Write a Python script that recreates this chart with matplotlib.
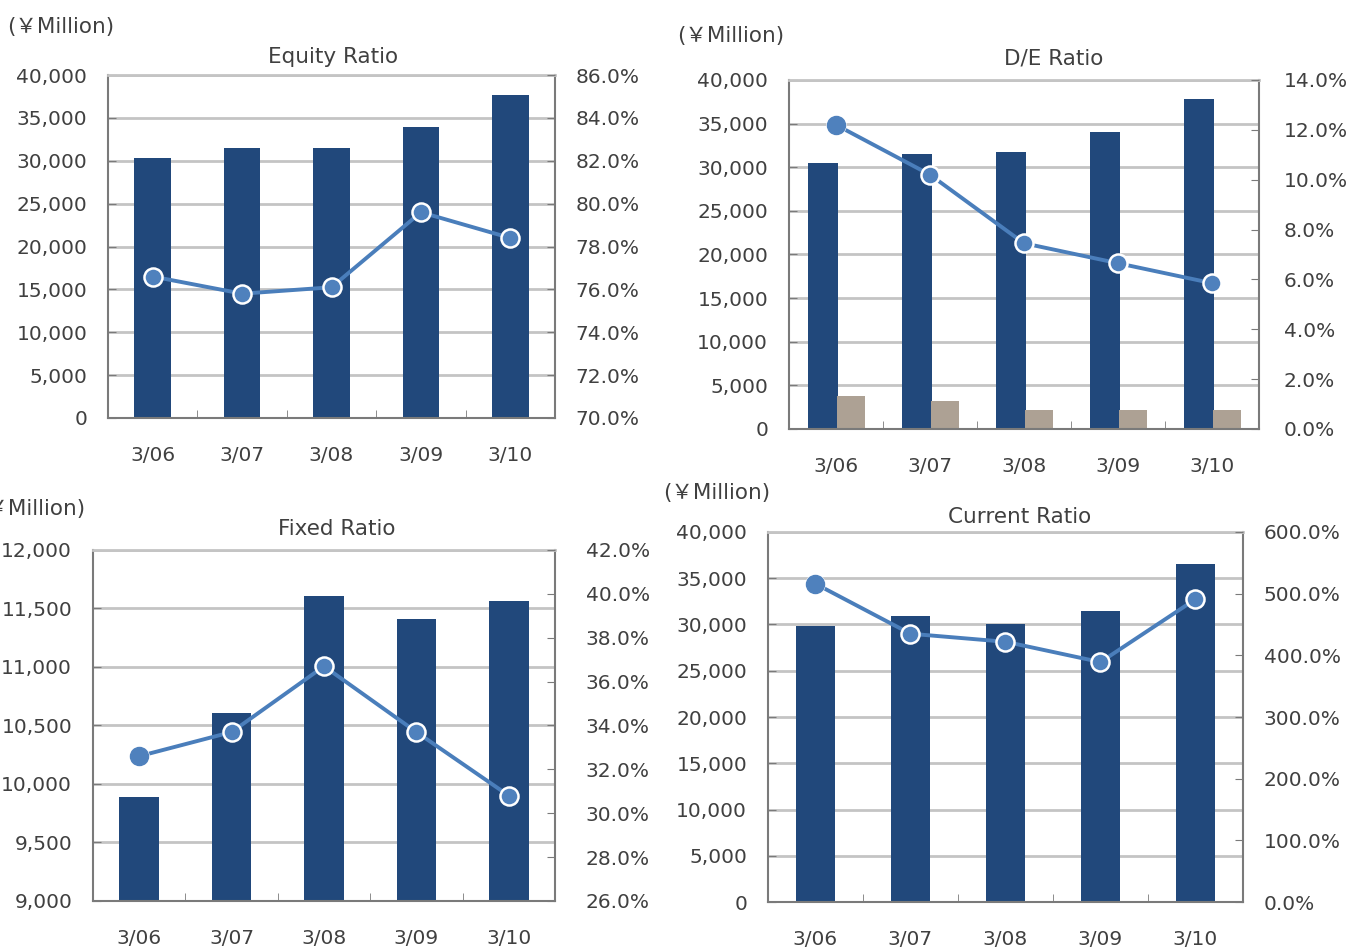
import matplotlib
matplotlib.use('Agg')
import matplotlib.pyplot as plt
from matplotlib.ticker import FuncFormatter, MultipleLocator, FixedLocator

plt.rcParams['font.family'] = ['DejaVu Sans', 'Noto Sans CJK JP']

# data
years = ['3/06', '3/07', '3/08', '3/09', '3/10']

equity_amt = [30300, 31500, 31500, 33900, 37650]
equity_pct = [76.6, 75.8, 76.1, 79.6, 78.4]

de_equity = [30500, 31500, 31750, 34050, 37800]
de_debt = [3780, 3200, 2180, 2180, 2180]
de_pct = [12.2, 10.2, 7.45, 6.65, 5.85]

fixed_amt = [9890, 10610, 11610, 11410, 11565]
fixed_pct = [32.6, 33.7, 36.7, 33.7, 30.8]

current_amt = [29850, 30900, 30050, 31450, 36550]
current_pct = [516, 435, 422, 389, 491]

NAVY = '#21487b'
LINE = '#4a7ebb'
MARK = '#4f81bd'
GREY = '#ada194'
GRID = '#c4c4c4'
SPINE = '#7a7a7a'
TXT = '#404040'
FS = 14.5

fig = plt.figure(figsize=(13.54, 9.51), dpi=100)


def panel(rect, ylim, ystep, y2lim, y2step, title, title_xy, unit_xy, rpad):
    ax = fig.add_axes(rect)
    ax.set_xlim(-0.5, 4.5)
    ax.set_ylim(*ylim)
    ax.yaxis.set_major_locator(MultipleLocator(ystep))
    ax.yaxis.set_major_formatter(FuncFormatter(lambda v, p: f'{v:,.0f}'))
    ax.grid(axis='y', color=GRID, linewidth=2, zorder=0)
    ax.set_axisbelow(True)
    ax.set_xticks(range(len(years)))
    ax.set_xticklabels(years)
    ax.xaxis.set_minor_locator(FixedLocator([0.5, 1.5, 2.5, 3.5]))
    ax.tick_params(axis='x', which='major', length=0, pad=20, labelsize=FS, labelcolor=TXT)
    ax.tick_params(axis='x', which='minor', direction='in', length=6, color=SPINE)
    ax.tick_params(axis='y', direction='in', length=6, color=SPINE, pad=15,
                   labelsize=FS, labelcolor=TXT)
    for s in ['left', 'right', 'bottom']:
        ax.spines[s].set_color(SPINE)
        ax.spines[s].set_linewidth(1.5)
    ax.spines['top'].set_color(GRID)
    ax.spines['top'].set_linewidth(2)

    ax2 = ax.twinx()
    ax2.set_ylim(*y2lim)
    ax2.yaxis.set_major_locator(MultipleLocator(y2step))
    ax2.yaxis.set_major_formatter(FuncFormatter(lambda v, p: '%.1f%%' % v))
    ax2.tick_params(axis='y', direction='in', length=6, color=SPINE, pad=rpad,
                    labelsize=FS, labelcolor=TXT)
    for s in ax2.spines.values():
        s.set_visible(False)

    fig.text(title_xy[0], title_xy[1], title, ha='center', va='center',
             fontsize=15.5, color=TXT)
    fig.text(unit_xy[0], unit_xy[1], '(￥Million)', ha='left', va='center',
             fontsize=15.5, color=TXT)
    return ax, ax2


def line(ax2, vals, plain_first):
    ax2.plot(range(len(vals)), vals, color=LINE, linewidth=2.8, marker='o',
             markersize=13, markerfacecolor=MARK, markeredgecolor='white',
             markeredgewidth=1.8, zorder=5)
    if plain_first:
        ax2.plot([0], vals[:1], marker='o', markersize=13, markerfacecolor=MARK,
                 markeredgecolor=MARK, markeredgewidth=1.0, zorder=6)


x = list(range(len(years)))

# Equity Ratio
ax, ax2 = panel([0.0798, 0.5605, 0.3301, 0.3605], (0, 40000), 5000,
                (70, 86), 2, 'Equity Ratio', (0.246, 0.940), (0.005, 0.972), 15)
ax.bar(x, equity_amt, width=0.41, color=NAVY, zorder=2)
line(ax2, equity_pct, False)

# D/E Ratio
ax, ax2 = panel([0.5827, 0.5489, 0.3471, 0.3670], (0, 40000), 5000,
                (0, 14), 2, 'D/E Ratio', (0.778, 0.939), (0.500, 0.962), 18)
ax.bar([i - 0.14 for i in x], de_equity, width=0.32, color=NAVY, zorder=2)
ax.bar([i + 0.16 for i in x], de_debt, width=0.29, color=GREY, zorder=2)
line(ax2, de_pct, True)

# Fixed Ratio
ax, ax2 = panel([0.0687, 0.0526, 0.3412, 0.3691], (9000, 12000), 500,
                (26, 42), 2, 'Fixed Ratio', (0.249, 0.444), (-0.016, 0.465), 22)
ax.bar(x, fixed_amt, width=0.43, color=NAVY, zorder=2)
line(ax2, fixed_pct, True)

# Current Ratio
ax, ax2 = panel([0.5672, 0.0515, 0.3508, 0.3891], (0, 40000), 5000,
                (0, 600), 100, 'Current Ratio', (0.753, 0.456), (0.490, 0.482), 15)
ax.bar(x, current_amt, width=0.41, color=NAVY, zorder=2)
line(ax2, current_pct, True)

fig.savefig('out.png', dpi=100)
